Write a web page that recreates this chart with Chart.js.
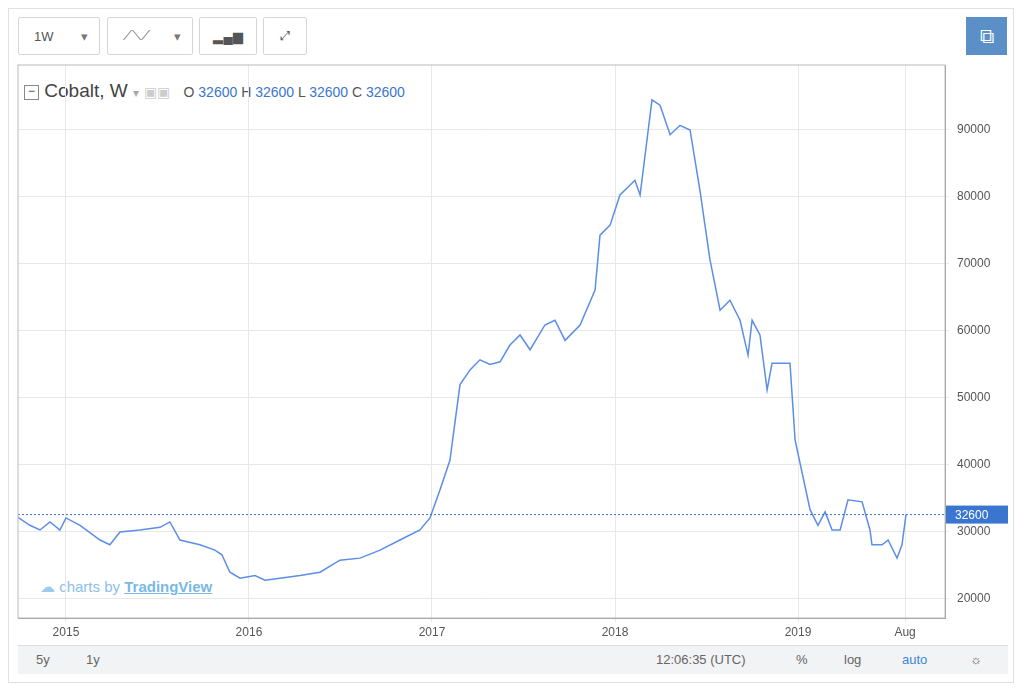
<!DOCTYPE html>
<html><head><meta charset="utf-8">
<script src="https://cdn.jsdelivr.net/npm/chart.js@4"></script>
<style>
body{margin:0;width:1024px;height:691px;background:#fff;font-family:"Liberation Sans",Arial,sans-serif;overflow:hidden;position:relative}
#c{position:absolute;left:0;top:0}
.btn{position:absolute;top:17px;height:38px;border:1px solid #d6d6d6;border-radius:2px;background:#fff;box-sizing:border-box;color:#555;font-size:13px;display:flex;align-items:center;justify-content:center}
.frame{position:absolute;left:8px;top:8px;width:1006px;height:675px;border:1px solid #e0e0e0;box-sizing:border-box}
.bottom{position:absolute;left:18px;top:645px;width:990px;height:28px;background:#f2f3f5;border-top:1px solid #ddd;font-size:13px;color:#666}
.bottom span{position:absolute;top:6px}
.leg{position:absolute;left:24px;top:80px;font-size:19px;color:#444}
</style></head><body>
<div class="frame"></div>
<div class="btn" style="left:18px;width:82px;justify-content:flex-start;padding-left:15px">1W<span style="position:absolute;left:62px;color:#777">▾</span></div>
<div class="btn" style="left:107px;width:86px;justify-content:flex-start;padding-left:15px;color:#666">⟋⟍⟋<span style="position:absolute;left:66px;color:#777">▾</span></div>
<div class="btn" style="left:199px;width:58px">▂▄▆</div>
<div class="btn" style="left:263px;width:44px">⤢</div>
<div style="position:absolute;left:966px;top:17px;width:41px;height:38px;background:#5a8fc7;color:#fff;font-size:20px;display:flex;align-items:center;justify-content:center">⧉</div>
<div class="leg"><span style="display:inline-block;width:13px;height:13px;border:1px solid #888;font-size:12px;line-height:11px;text-align:center;vertical-align:2px">−</span> Cobalt, W <span style="color:#aaa;font-size:12px">▾</span> <span style="color:#ccc;font-size:14px">▣▣</span>
<span style="font-size:14px;color:#555;margin-left:8px">O <b style="color:#3a76d0;font-weight:normal">32600</b> H <b style="color:#3a76d0;font-weight:normal">32600</b> L <b style="color:#3a76d0;font-weight:normal">32600</b> C <b style="color:#3a76d0;font-weight:normal">32600</b></span></div>
<div style="position:absolute;left:40px;top:578px;font-size:15px;color:#8cc0e8"><span style="color:#9ccbee">☁</span> charts by <u style="font-weight:bold;color:#7ab8e6">TradingView</u></div>
<canvas id="c" width="1024" height="691"></canvas>
<div class="bottom"><span style="left:18px">5y</span><span style="left:68px">1y</span><span style="left:638px">12:06:35 (UTC)</span><span style="left:778px">%</span><span style="left:826px">log</span><span style="left:884px;color:#3a86d8">auto</span><span style="left:952px">☼</span></div>
<script>
const years=[2014.738,2014.803,2014.858,2014.913,2014.967,2015.0,2015.077,2015.186,2015.240,2015.295,2015.404,2015.514,2015.568,2015.623,2015.732,2015.814,2015.852,2015.896,2015.951,2016.033,2016.087,2016.169,2016.279,2016.388,2016.497,2016.607,2016.716,2016.825,2016.934,2016.989,2017.044,2017.098,2017.153,2017.208,2017.262,2017.317,2017.372,2017.426,2017.481,2017.536,2017.617,2017.672,2017.727,2017.809,2017.891,2017.918,2017.973,2018.027,2018.109,2018.137,2018.202,2018.246,2018.301,2018.355,2018.410,2018.464,2018.519,2018.574,2018.628,2018.683,2018.727,2018.749,2018.792,2018.831,2018.858,2018.956,2018.984,2019.066,2019.109,2019.148,2019.186,2019.230,2019.273,2019.350,2019.393,2019.404,2019.459,2019.492,2019.541,2019.568,2019.590];
const prices=[32200,31000,30300,31500,30300,32100,31000,28800,28100,30000,30300,30700,31500,28800,28100,27300,26600,24000,23100,23500,22800,23100,23500,24000,25800,26100,27300,28800,30300,32100,36300,40700,52000,54200,55700,55000,55400,57900,59400,57200,60900,61600,58600,60900,66100,74300,75800,80300,82500,80300,94500,93700,89300,90700,90000,81000,70600,63100,64600,61600,56400,61600,59400,51200,55200,55200,43700,33300,31000,33000,30300,30300,34800,34500,30300,28100,28100,28800,26100,28100,32600];
const xTickVals=[2015,2016,2017,2018,2019,2019.585];
const xTickLabels=['2015','2016','2017','2018','2019','Aug'];
const yTicks=[20000,30000,40000,50000,60000,70000,80000,90000];
const last=32600;
const overlay={id:'ov',afterDraw(ch){const c=ch.ctx,a=ch.chartArea,y=ch.scales.y.getPixelForValue(last);
c.save();c.strokeStyle='#3a76d0';c.setLineDash([2,2]);c.lineWidth=1;c.beginPath();c.moveTo(a.left,y);c.lineTo(a.right,y);c.stroke();c.setLineDash([]);
c.fillStyle='#3a76d0';c.fillRect(a.right+1,y-9,62,18);c.fillStyle='#fff';c.font='12px "Liberation Sans",Arial';c.textBaseline='middle';c.fillText(String(last),a.right+10,y+1);
c.strokeStyle='#bbb';c.strokeRect(a.left,a.top,a.right-a.left,a.bottom-a.top);c.restore();}};
new Chart(document.getElementById('c'),{type:'line',
data:{datasets:[{data:years.map((x,i)=>({x,y:prices[i]})),borderColor:'#5b8ee6',borderWidth:1.5,pointRadius:0,tension:0}]},
options:{responsive:false,animation:false,layout:{padding:{left:18,top:65,right:15,bottom:51}},
plugins:{legend:{display:false},tooltip:{enabled:false}},
scales:{x:{type:'linear',min:2014.738,max:2019.803,afterFit(s){s.height=22},
afterBuildTicks(s){s.ticks=xTickVals.map(v=>({value:v}))},
ticks:{autoSkip:false,maxRotation:0,color:'#555',font:{size:12},callback:(v,i)=>xTickLabels[i]},
grid:{color:'#e8e8e8',drawTicks:true,tickLength:4},border:{color:'#999'}},
y:{position:'right',min:17164,max:99700,afterFit(s){s.width=64},
afterBuildTicks(s){s.ticks=yTicks.map(v=>({value:v}))},
ticks:{color:'#555',font:{size:12},padding:8,callback:v=>String(v)},grid:{color:'#e8e8e8',tickLength:4},border:{color:'#999'}}}},
plugins:[overlay]});
</script></body></html>
